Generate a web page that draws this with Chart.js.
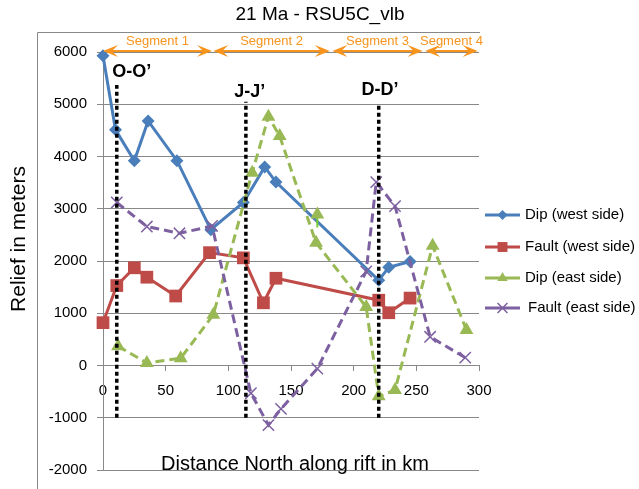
<!DOCTYPE html>
<html>
<head>
<meta charset="utf-8">
<title>21 Ma - RSU5C_vlb</title>
<script src="https://cdn.jsdelivr.net/npm/chart.js@4.4.1/dist/chart.umd.min.js"></script>
<style>
  body { margin: 0; background: #fff; }
  #wrap { position: relative; width: 639px; height: 489px; }
</style>
</head>
<body>
<div id="wrap"><canvas id="chart" width="639" height="489"></canvas></div>
<script>
// distance north along rift (km) and relief (m)
const dipWestKm = [0, 10, 25, 36, 59, 86, 112, 129, 138, 220, 228, 245];
const dipWestM = [5930, 4510, 3920, 4680, 3920, 2600, 3120, 3800, 3510, 1630, 1880, 1990];

const faultWestKm = [0, 11, 25, 35, 58, 85, 112, 128, 138, 220, 228, 245];
const faultWestM = [820, 1530, 1870, 1690, 1330, 2160, 2060, 1200, 1670, 1250, 1010, 1290];

const dipEastKm = [12, 35, 62, 88, 119, 132, 141, 170, 210, 220, 233, 263, 290];
const dipEastM = [370, 50, 140, 970, 3690, 4760, 4390, 2350, 1120, -590, -470, 2290, 680];
// the odd lone marker just right of the dashed line near 170 km
const dipEastExtraKm = [171, 171];
const dipEastExtraM = [2890, 2640];

const faultEastKm = [11, 35, 61, 87, 118, 132, 142, 171, 210, 218, 233, 261, 289];
const faultEastM = [3120, 2660, 2530, 2670, -530, -1140, -830, -60, 1800, 3510, 3050, 550, 150];

// cross sections: name, position (km), top of dotted line (m), label position
const sectionNames = ['O-O\u2019', 'J-J\u2019', 'D-D\u2019'];
const sectionKm = [11, 114, 220];
const sectionTopM = [5370, 5050, 4970];
const sectionLabelKm = [23, 117, 221];
const sectionLabelM = [5620, 5240, 5280];

// rift segments along the top (km)
const segmentNames = ['Segment 1', 'Segment 2', 'Segment 3', 'Segment 4'];
const segmentStartKm = [0, 88, 183, 257];
const segmentEndKm = [87, 181, 255, 299];
const segmentM = 6020;

const xTicks = [0, 50, 100, 150, 200, 250, 300];
const yTicks = [-2000, -1000, 0, 1000, 2000, 3000, 4000, 5000, 6000];

const FONT = '"Liberation Sans", Arial, sans-serif';
const GRID = '#888888';
const ORANGE = '#f7941e';

function pts(xs, ys) {
  return xs.map((x, i) => ({ x: x, y: ys[i] }));
}

const series = [
  { label: 'Dip (west side)', data: pts(dipWestKm, dipWestM), color: '#4a7ebb',
    pointStyle: 'rectRot', radius: 6.5, dash: [], order: 4, legendRadius: 5 },
  { label: 'Fault (west side)', data: pts(faultWestKm, faultWestM), color: '#be4b48',
    pointStyle: 'rect', radius: 9, dash: [], order: 3, legendRadius: 7 },
  { label: 'Dip (east side)', data: pts(dipEastKm, dipEastM), color: '#98b954',
    pointStyle: 'triangle', radius: 8, dash: [9, 5], order: 2, legendRadius: 6 },
  { label: 'Fault (east side)', data: pts(faultEastKm, faultEastM), color: '#7d60a0',
    pointStyle: 'crossRot', radius: 8, dash: [9, 5], order: 1, legendRadius: 7 },
];

const datasets = series.map(s => ({
  label: s.label,
  data: s.data,
  borderColor: s.color,
  backgroundColor: s.color,
  borderWidth: 3,
  borderDash: s.dash,
  pointStyle: s.pointStyle,
  pointRadius: s.radius,
  pointBorderWidth: s.pointStyle === 'crossRot' ? 1.5 : 0,
  pointBorderColor: s.color,
  pointBackgroundColor: s.color,
  tension: 0,
  order: s.order,
  clip: false,
}));

datasets.push({
  label: 'extra',
  data: pts(dipEastExtraKm, dipEastExtraM),
  borderColor: '#77cc33',
  backgroundColor: '#98b954',
  borderWidth: 2,
  pointStyle: 'triangle',
  pointRadius: [8, 0],
  pointBorderWidth: 0,
  order: 2,
  clip: false,
});

sectionKm.forEach((km, i) => {
  datasets.push({
    label: sectionNames[i],
    data: [{ x: km, y: -1000 }, { x: km, y: sectionTopM[i] }],
    borderColor: '#000',
    borderWidth: 3.5,
    borderDash: [4, 3],
    pointRadius: 0,
    order: 0,
    clip: false,
  });
});

function arrowHead(ctx, tx, y, dir) {
  const L = 15, W = 6;
  ctx.beginPath();
  ctx.moveTo(tx, y);
  ctx.lineTo(tx - dir * L, y - W);
  ctx.lineTo(tx - dir * L * 0.6, y);
  ctx.lineTo(tx - dir * L, y + W);
  ctx.closePath();
  ctx.fill();
}

const decor = {
  id: 'decor',
  beforeDatasetsDraw(chart) {
    const { ctx } = chart;
    ctx.save();
    ctx.strokeStyle = GRID;
    ctx.lineWidth = 1;
    // outer frame (top and left)
    ctx.beginPath();
    ctx.moveTo(37.5, 489);
    ctx.lineTo(37.5, 32.5);
    ctx.lineTo(480, 32.5);
    ctx.stroke();
    ctx.restore();
  },
  afterDatasetsDraw(chart) {
    const { ctx, scales: { x, y } } = chart;
    ctx.save();
    // segment arrows
    const ay = y.getPixelForValue(segmentM);
    ctx.strokeStyle = ORANGE;
    ctx.fillStyle = ORANGE;
    ctx.lineWidth = 2;
    ctx.font = '13px ' + FONT;
    ctx.textAlign = 'center';
    ctx.textBaseline = 'middle';
    segmentNames.forEach((name, i) => {
      const x1 = x.getPixelForValue(segmentStartKm[i]);
      const x2 = x.getPixelForValue(segmentEndKm[i]);
      ctx.beginPath();
      ctx.moveTo(x1 + 8, ay);
      ctx.lineTo(x2 - 8, ay);
      ctx.stroke();
      arrowHead(ctx, x1, ay, -1);
      arrowHead(ctx, x2, ay, 1);
      ctx.fillText(name, (x1 + x2) / 2, ay - 10);
    });
    ctx.restore();
  },
  afterDraw(chart) {
    const { ctx, scales: { x, y } } = chart;
    ctx.save();
    ctx.fillStyle = '#000';
    ctx.textAlign = 'center';
    ctx.textBaseline = 'middle';

    ctx.font = '19px ' + FONT;
    ctx.fillText('21 Ma - RSU5C_vlb', 320, 15);

    ctx.font = '20px ' + FONT;
    ctx.fillText('Distance North along rift in km', 295, 464);

    ctx.save();
    ctx.font = '21px ' + FONT;
    ctx.translate(19, 239);
    ctx.rotate(-Math.PI / 2);
    ctx.fillText('Relief in meters', 0, 0);
    ctx.restore();

    ctx.font = 'bold 18px ' + FONT;
    sectionNames.forEach((name, i) => {
      ctx.fillText(name, x.getPixelForValue(sectionLabelKm[i]), y.getPixelForValue(sectionLabelM[i]));
    });

    // legend
    ctx.font = '15px ' + FONT;
    ctx.textAlign = 'left';
    const rows = [215, 247, 278, 308];
    series.forEach((s, i) => {
      const ly = rows[i];
      ctx.strokeStyle = s.color;
      ctx.fillStyle = s.color;
      ctx.lineWidth = 3;
      ctx.setLineDash([]);
      ctx.beginPath();
      ctx.moveTo(485, ly);
      ctx.lineTo(520, ly);
      ctx.stroke();
      ctx.lineWidth = s.pointStyle === 'crossRot' ? 1.5 : 0;
      Chart.helpers.drawPoint(ctx, {
        pointStyle: s.pointStyle, radius: s.legendRadius, rotation: 0,
        borderWidth: s.pointStyle === 'crossRot' ? 1.5 : 0,
      }, 502.5, ly);
      ctx.fillStyle = '#000';
      ctx.fillText(s.label, i === 3 ? 528 : 525, ly);
    });
    ctx.restore();
  },
};

new Chart(document.getElementById('chart'), {
  type: 'line',
  data: { datasets: datasets },
  plugins: [decor],
  options: {
    responsive: false,
    animation: false,
    events: [],
    layout: { padding: { left: 0, top: 52, right: 160, bottom: 17 } },
    plugins: {
      legend: { display: false },
      title: { display: false },
      tooltip: { enabled: false },
    },
    scales: {
      x: {
        type: 'linear',
        position: { y: 0 },
        min: 0,
        max: 300,
        afterBuildTicks: s => { s.ticks = xTicks.map(v => ({ value: v })); },
        grid: { drawOnChartArea: false, drawTicks: true, tickLength: 5, color: GRID },
        border: { color: GRID },
        ticks: { color: '#000', font: { family: FONT, size: 15 }, padding: 11, maxRotation: 0,
          callback: v => String(v) },
      },
      y: {
        type: 'linear',
        min: -2000,
        max: 6000,
        afterBuildTicks: s => { s.ticks = yTicks.map(v => ({ value: v })); },
        afterFit: s => { s.width = 103; },
        grid: { color: GRID, lineWidth: 1, tickLength: 6 },
        border: { color: GRID },
        ticks: { color: '#000', font: { family: FONT, size: 15 }, padding: 10,
          callback: v => String(v) },
      },
    },
  },
});
</script>
</body>
</html>
